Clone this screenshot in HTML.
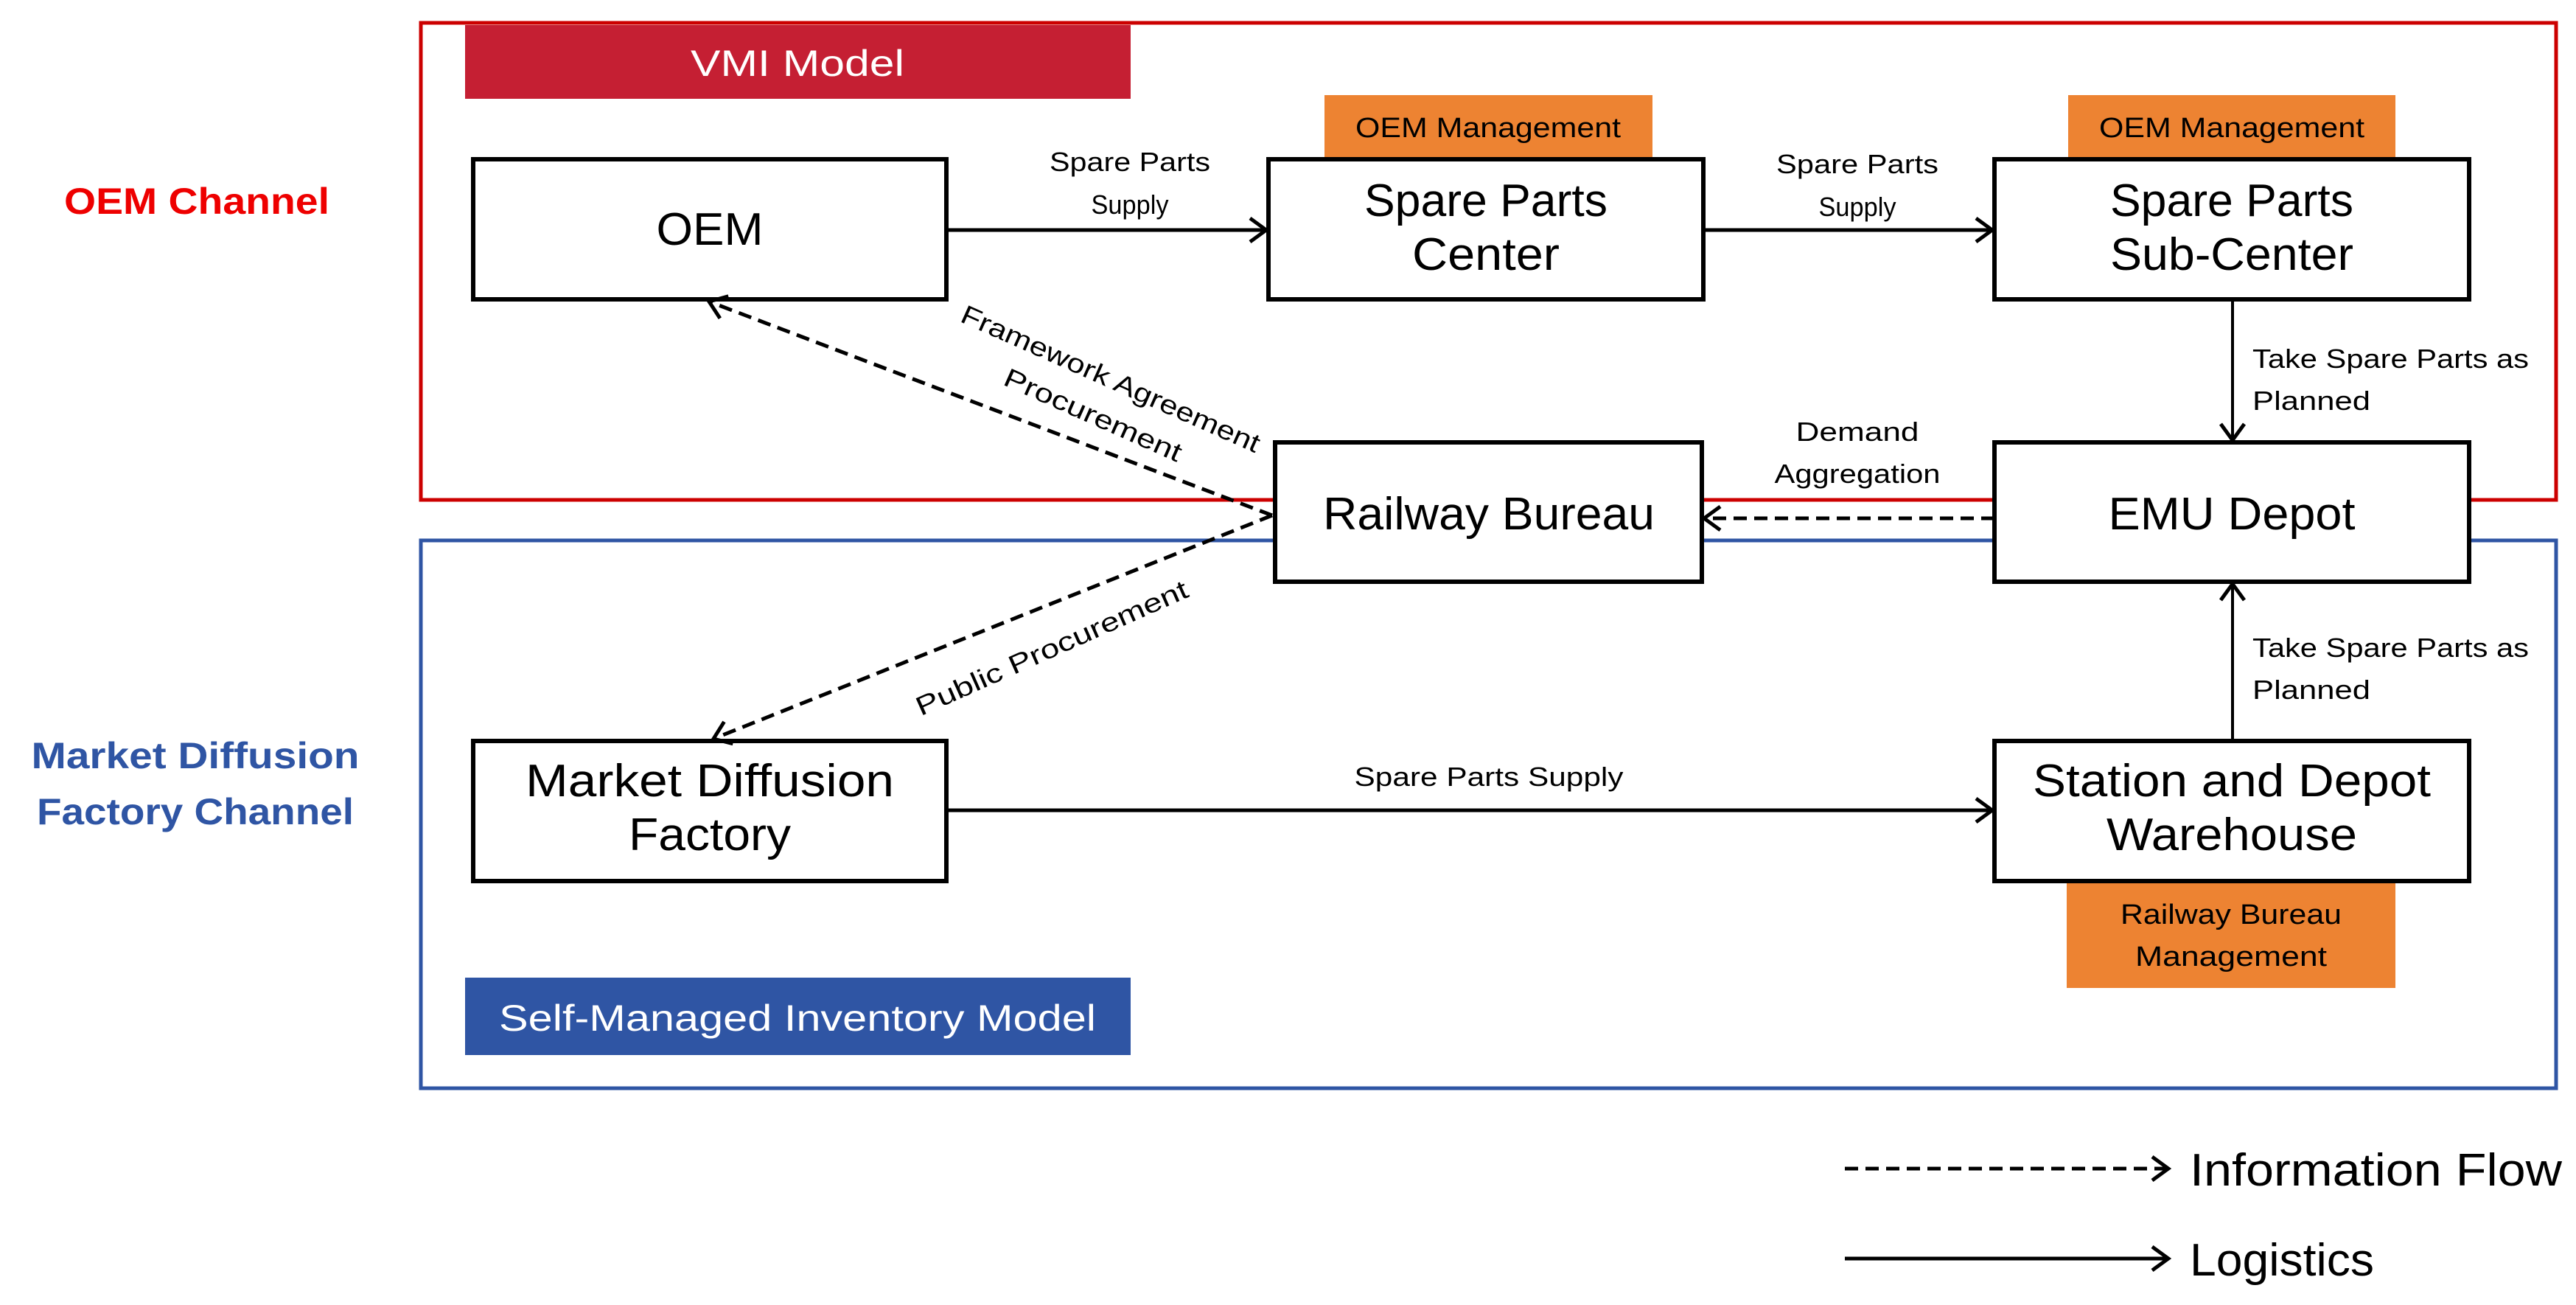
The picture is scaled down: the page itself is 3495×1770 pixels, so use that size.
<!DOCTYPE html>
<html><head><meta charset="utf-8"><style>html,body{margin:0;padding:0;background:#fff}svg{display:block}text{font-family:"Liberation Sans",sans-serif}</style></head>
<body>
<svg width="3495" height="1770" viewBox="0 0 3495 1770" xmlns="http://www.w3.org/2000/svg">
<defs>
<marker id="a" markerWidth="30" markerHeight="40" refX="26" refY="20" orient="auto" markerUnits="userSpaceOnUse">
<path d="M4,4 L26,20 L4,36" fill="none" stroke="#000" stroke-width="5"/>
</marker>
</defs>
<rect x="571" y="31" width="2897" height="647" fill="none" stroke="#cc0000" stroke-width="5"/>
<rect x="571" y="733" width="2897" height="743" fill="none" stroke="#2f55a4" stroke-width="5"/>
<rect x="631" y="34" width="903" height="100" fill="#c51f33"/>
<text x="1082" y="103" font-size="50" fill="#fff" text-anchor="middle" textLength="290" lengthAdjust="spacingAndGlyphs">VMI Model</text>
<rect x="631" y="1326" width="903" height="105" fill="#2f55a4"/>
<text x="1082" y="1398" font-size="50" fill="#fff" text-anchor="middle" textLength="810" lengthAdjust="spacingAndGlyphs">Self-Managed Inventory Model</text>
<text x="267" y="290" font-size="50" font-weight="bold" fill="#ee0000" text-anchor="middle" textLength="360" lengthAdjust="spacingAndGlyphs">OEM Channel</text>
<text x="265" y="1042" font-size="50" font-weight="bold" fill="#2f55a4" text-anchor="middle" textLength="445" lengthAdjust="spacingAndGlyphs">Market Diffusion</text>
<text x="265" y="1118" font-size="50" font-weight="bold" fill="#2f55a4" text-anchor="middle" textLength="430" lengthAdjust="spacingAndGlyphs">Factory Channel</text>
<rect x="1797" y="129" width="445" height="87" fill="#ed8332"/>
<text x="2019" y="186" font-size="38" text-anchor="middle" textLength="360" lengthAdjust="spacingAndGlyphs">OEM Management</text>
<rect x="2806" y="129" width="444" height="87" fill="#ed8332"/>
<text x="3028" y="186" font-size="38" text-anchor="middle" textLength="360" lengthAdjust="spacingAndGlyphs">OEM Management</text>
<rect x="2804" y="1195" width="446" height="145" fill="#ed8332"/>
<text x="3027" y="1253" font-size="38" text-anchor="middle" textLength="300" lengthAdjust="spacingAndGlyphs">Railway Bureau</text>
<text x="3027" y="1310" font-size="38" text-anchor="middle" textLength="260" lengthAdjust="spacingAndGlyphs">Management</text>
<g fill="#fff" stroke="#000" stroke-width="6">
<rect x="642" y="216" width="642" height="190"/>
<rect x="1721" y="216" width="590" height="190"/>
<rect x="2706" y="216" width="644" height="190"/>
<rect x="1730" y="600" width="579" height="189"/>
<rect x="2706" y="600" width="644" height="189"/>
<rect x="642" y="1005" width="642" height="190"/>
<rect x="2706" y="1005" width="644" height="190"/>
</g>
<g font-size="62" text-anchor="middle">
<text x="963" y="332" textLength="145" lengthAdjust="spacingAndGlyphs">OEM</text>
<text x="2016" y="293" textLength="330" lengthAdjust="spacingAndGlyphs">Spare Parts</text>
<text x="2016" y="366" textLength="200" lengthAdjust="spacingAndGlyphs">Center</text>
<text x="3028" y="293" textLength="330" lengthAdjust="spacingAndGlyphs">Spare Parts</text>
<text x="3028" y="366" textLength="330" lengthAdjust="spacingAndGlyphs">Sub-Center</text>
<text x="2020" y="718" textLength="450" lengthAdjust="spacingAndGlyphs">Railway Bureau</text>
<text x="3028" y="718" textLength="335" lengthAdjust="spacingAndGlyphs">EMU Depot</text>
<text x="963" y="1080" textLength="500" lengthAdjust="spacingAndGlyphs">Market Diffusion</text>
<text x="963" y="1153" textLength="220" lengthAdjust="spacingAndGlyphs">Factory</text>
<text x="3028" y="1080" textLength="540" lengthAdjust="spacingAndGlyphs">Station and Depot</text>
<text x="3028" y="1153" textLength="340" lengthAdjust="spacingAndGlyphs">Warehouse</text>
</g>
<g stroke="#000" stroke-width="5" fill="none">
<line x1="1284" y1="312" x2="1718" y2="312" marker-end="url(#a)"/>
<line x1="2311" y1="312" x2="2703" y2="312" marker-end="url(#a)"/>
<line x1="3029" y1="406" x2="3029" y2="597" stroke-width="4" marker-end="url(#a)"/>
<line x1="3029" y1="1005" x2="3029" y2="792" stroke-width="4" marker-end="url(#a)"/>
<line x1="1284" y1="1099" x2="2703" y2="1099" marker-end="url(#a)"/>
<g stroke-dasharray="18,10">
<line x1="2706" y1="703" x2="2312" y2="703" marker-end="url(#a)"/>
<line x1="1726" y1="699" x2="962" y2="409" marker-end="url(#a)"/>
<line x1="1726" y1="699" x2="968" y2="1002" marker-end="url(#a)"/>
<line x1="2503" y1="1585" x2="2942" y2="1585" marker-end="url(#a)"/>
</g>
<line x1="2503" y1="1707" x2="2942" y2="1707" marker-end="url(#a)"/>
</g>
<g font-size="36" text-anchor="middle">
<text x="1533" y="232" textLength="218" lengthAdjust="spacingAndGlyphs">Spare Parts</text>
<text x="1533" y="290" textLength="105" lengthAdjust="spacingAndGlyphs">Supply</text>
<text x="2520" y="235" textLength="220" lengthAdjust="spacingAndGlyphs">Spare Parts</text>
<text x="2520" y="293" textLength="105" lengthAdjust="spacingAndGlyphs">Supply</text>
<text x="2520" y="598" textLength="167" lengthAdjust="spacingAndGlyphs">Demand</text>
<text x="2520" y="655" textLength="225" lengthAdjust="spacingAndGlyphs">Aggregation</text>
<text x="2020" y="1066" textLength="365" lengthAdjust="spacingAndGlyphs">Spare Parts Supply</text>
<text x="3056" y="499" text-anchor="start" textLength="375" lengthAdjust="spacingAndGlyphs">Take Spare Parts as</text>
<text x="3056" y="556" text-anchor="start" textLength="160" lengthAdjust="spacingAndGlyphs">Planned</text>
<text x="3056" y="891" text-anchor="start" textLength="375" lengthAdjust="spacingAndGlyphs">Take Spare Parts as</text>
<text x="3056" y="948" text-anchor="start" textLength="160" lengthAdjust="spacingAndGlyphs">Planned</text>
<text transform="translate(1502,525) rotate(24)" textLength="440" lengthAdjust="spacingAndGlyphs">Framework Agreement</text>
<text transform="translate(1478,574) rotate(24)" textLength="260" lengthAdjust="spacingAndGlyphs">Procurement</text>
<text transform="translate(1432,890) rotate(-24)" textLength="400" lengthAdjust="spacingAndGlyphs">Public Procurement</text>
</g>
<g font-size="62">
<text x="2971" y="1608" textLength="505" lengthAdjust="spacingAndGlyphs">Information Flow</text>
<text x="2971" y="1730" textLength="250" lengthAdjust="spacingAndGlyphs">Logistics</text>
</g>
</svg>
</body></html>
